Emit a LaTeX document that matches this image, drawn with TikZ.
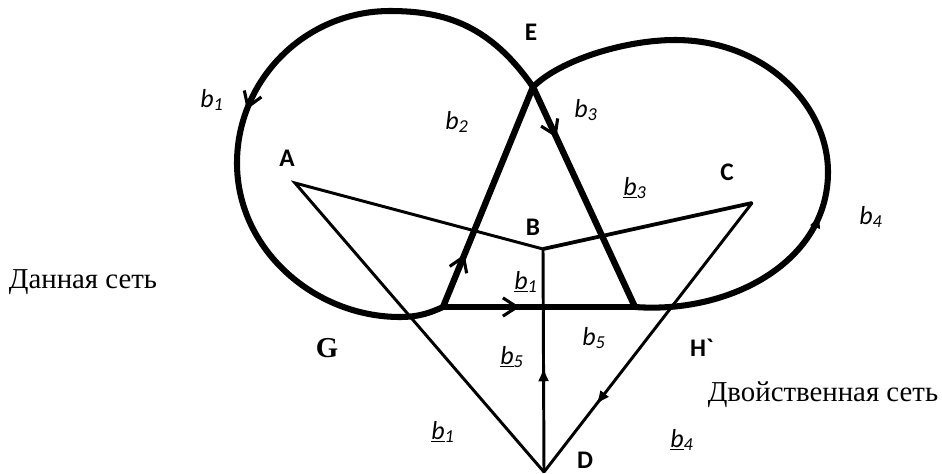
\documentclass[tikz,border=0pt]{standalone}
\usepackage{fontspec}
\setmainfont{Liberation Serif}
\newfontfamily\lblfont{Carlito}
\usetikzlibrary{arrows.meta,decorations.markings}

\tikzset{
  netloop/.style={line width=4.3pt},
  netedge/.style={line width=4.5pt},
  dualedge/.style={line width=2.1pt},
  vlabel/.style={font=\lblfont\bfseries\fontsize{18}{20}\selectfont},
  blabel/.style={font=\lblfont\itshape\fontsize{18.5}{20}\selectfont},
  netcaption/.style={font=\rmfamily\fontsize{20.5}{24}\selectfont},
  midbarb/.style={postaction={decorate,decoration={markings,
      mark=at position #1 with {\arrow{Straight Barb[length=10pt,width=13pt,line width=2.2pt]}}}}},
  midtip/.style={postaction={decorate,decoration={markings,
      mark=at position #1 with {\arrow{Latex[length=10pt,width=8pt]}}}}},
}

\begin{document}
\begin{tikzpicture}[x=0.025cm, y=-0.025cm]
  \useasboundingbox (0,0) rectangle (942,474);

  % given net
  \coordinate (E) at (533,87);
  \coordinate (L) at (443,307);
  \coordinate (R) at (635,307);
  % dual net
  \coordinate (A) at (295,183);
  \coordinate (B) at (543,249);
  \coordinate (C) at (752,203);
  \coordinate (D) at (544,472);

  \draw[dualedge, line join=miter] (B) -- (A) -- (D);
  \draw[dualedge, line width=2.7pt] (B) -- (C);
  \draw[dualedge, line cap=round, midtip=0.75] (C) -- (D);
  \draw[dualedge, midtip=0.47] (D) -- (B);

  \draw[netloop, midbarb=0.505] (E) .. controls (490,25) and (445,11) .. (390,11)
    .. controls (305,11) and (237,80) .. (237,163)
    .. controls (237,250) and (315,317) .. (400,317)
    .. controls (420,317) and (432,312) .. (L);
  \draw[netloop, midtip=0.345] (R) .. controls (730,314) and (828,262) .. (828,172)
    .. controls (828,105) and (765,40) .. (675,40)
    .. controls (625,40) and (560,60) .. (E);

  \draw[netedge, midbarb=0.24] (L) -- (E);
  \draw[netedge, midbarb=0.23] (E) -- (R);
  \draw[netedge, midbarb=0.40] (L) -- (R);

  \node[vlabel] (labE) at (531,32) {E};
  \node[vlabel] (labA) at (287,158) {A};
  \node[vlabel] (labB) at (533,227) {B};
  \node[vlabel] (labC) at (727,172) {C};
  \node[vlabel, inner sep=0pt] (labD) at (585,460) {D};
  \node[vlabel] (labH) at (702,348) {H\textasciigrave};
  \node[netcaption, font=\rmfamily\bfseries\fontsize{20.5}{24}\selectfont] (labG) at (327,348) {G};

  \node[blabel] (b1) at (212,100) {b\textsubscript{1}};
  \node[blabel] (b2) at (457,122) {b\textsubscript{2}};
  \node[blabel] (b3) at (586,110) {b\textsubscript{3}};
  \node[blabel] (b4) at (871,217) {b\textsubscript{4}};
  \node[blabel] (b5) at (594,338) {b\textsubscript{5}};
  \node[blabel] (db3) at (635,188) {\underline{b}\textsubscript{3}};
  \node[blabel] (db1) at (526,282) {\underline{b}\textsubscript{1}};
  \node[blabel] (db5) at (512,357) {\underline{b}\textsubscript{5}};
  \node[blabel] (db1low) at (443,432) {\underline{b}\textsubscript{1}};
  \node[blabel] (db4) at (682,440) {\underline{b}\textsubscript{4}};

  \node[netcaption] (given) at (83,282) {Данная сеть};
  \node[netcaption] (dual) at (823,395) {Двойственная сеть};
\end{tikzpicture}
\end{document}
